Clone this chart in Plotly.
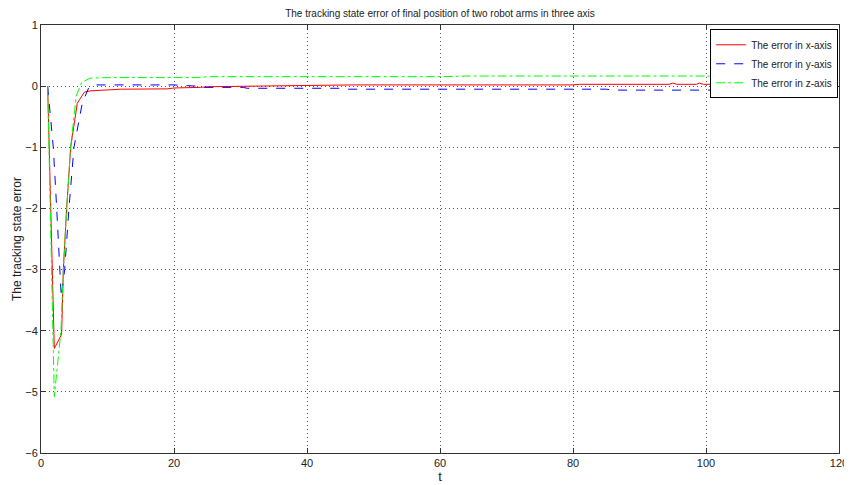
import plotly.graph_objects as go

# ---- data ----
t_x = [1, 2, 3.1, 3.36, 3.86, 4.46, 5.46, 6.5, 7.4, 11, 12, 19, 20, 24, 25, 32, 46, 47,
       80, 81, 94.5, 95, 95.6, 96, 98.6, 99, 99.6, 100, 101]
err_x = [0, -4.29, -4.06, -3.0, -2.0, -1.0, -0.28, -0.1, -0.077, -0.065, -0.05, -0.045,
         -0.03, -0.02, -0.01, 0.0, 0.01, 0.02, 0.02, 0.03, 0.03, 0.05, 0.03, 0.03, 0.03,
         0.05, 0.03, 0.03, 0.03]

t_y = [1, 1.45, 1.85, 2.36, 2.7, 3.05, 3.56, 4.2, 4.96, 6.2, 7.2, 8, 20, 23.4, 24, 30.4,
       31, 45, 46, 85, 86, 101]
err_y = [0, -0.6, -1.0, -2.0, -2.67, -3.45, -3.0, -2.0, -1.0, -0.28, -0.02, 0.02, 0.02,
         0.0, -0.02, -0.02, -0.035, -0.035, -0.05, -0.05, -0.065, -0.065]

t_z = [1, 2, 3, 3.36, 3.86, 4.46, 5.3, 6.1, 7.4, 10, 24, 25, 60, 64, 101]
err_z = [0, -5.08, -4.0, -3.0, -2.0, -1.0, -0.16, 0.06, 0.13, 0.14, 0.14, 0.155, 0.155,
         0.165, 0.165]

names = ["The error in x-axis", "The error in y-axis", "The error in z-axis"]

FONT = "Liberation Sans Narrow, Arial Narrow, Liberation Sans, Arial, sans-serif"

# the page body adds an 8px offset; figure is sized to fit the 852x485 window
W, H = 844, 477

fig = go.Figure()
fig.add_trace(go.Scatter(x=t_x, y=err_x, mode="lines", name=names[0],
                         line=dict(color="#ff0000", width=1)))
fig.add_trace(go.Scatter(x=t_y, y=err_y, mode="lines", name=names[1],
                         line=dict(color="#0000ff", width=1, dash="dash")))
fig.add_trace(go.Scatter(x=t_z, y=err_z, mode="lines", name=names[2],
                         line=dict(color="#00ff00", width=1, dash="dashdot")))

axis_common = dict(
    showline=True, linecolor="#333333", linewidth=1, mirror="ticks",
    ticks="inside", ticklen=5, tickcolor="#333333",
    showgrid=True, gridcolor="#555555", griddash="1px,3px", gridwidth=1,
    zeroline=False, automargin=False,
    tickfont=dict(size=11, color="#222222", family=FONT),
)

fig.update_layout(
    width=W, height=H,
    margin=dict(l=33, r=13, t=17, b=32),
    paper_bgcolor="white", plot_bgcolor="white",
    font=dict(family=FONT, color="#222222"),
    title=dict(text="The tracking state error of final position of two robot arms in three axis",
               x=0.5, xref="paper", xanchor="center",
               y=1 - 5 / H, yref="container", yanchor="middle", automargin=False,
               font=dict(size=10, family=FONT, color="#222222")),
    xaxis=dict(range=[0, 120], dtick=20, tick0=0,
               title=dict(text="t", standoff=2, font=dict(size=13, family=FONT)),
               **axis_common),
    yaxis=dict(range=[-6, 1], dtick=1, tick0=0,
               title=dict(text="The tracking state error", standoff=1,
                          font=dict(size=12, family=FONT)),
               **axis_common),
    legend=dict(x=0.999, y=0.99, xanchor="right", yanchor="top",
                bgcolor="white", bordercolor="#000000", borderwidth=1,
                font=dict(size=10, family=FONT, color="#222222"),
                tracegroupgap=0, itemwidth=30),
    showlegend=True,
)

fig.write_html("out.html")
